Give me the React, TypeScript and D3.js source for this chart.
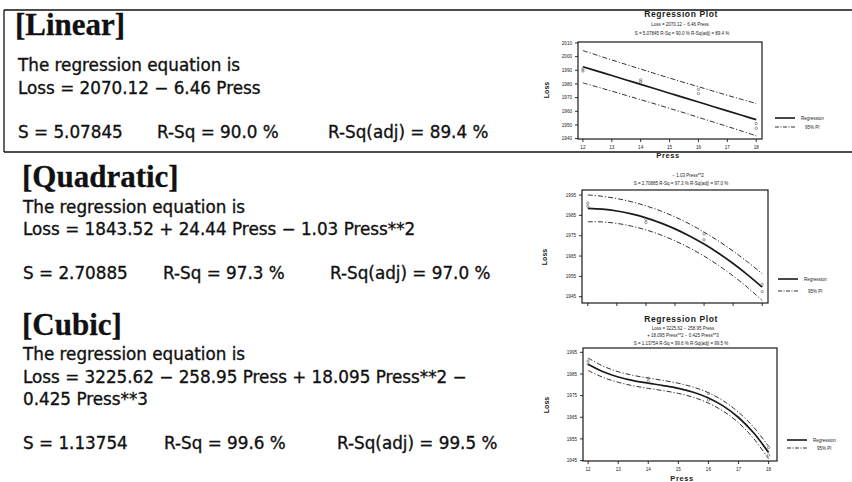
import React from "react";
import * as d3 from "d3";

// ---------- data ----------
const pressGrid = [12, 12.5, 13, 13.5, 14, 14.5, 15, 15.5, 16, 16.5, 17, 17.5, 18];
const linearFit = [1992.6, 1989.37, 1986.14, 1982.91, 1979.68, 1976.45, 1973.22, 1969.99, 1966.76, 1963.53, 1960.3, 1957.07, 1953.84];
const linearPIHalf = [11.8, 11.6, 11.4, 11.3, 11.2, 11.1, 11.1, 11.1, 11.2, 11.3, 11.4, 11.6, 11.8];
const quadFit = [1988.48, 1988.08, 1987.17, 1985.74, 1983.8, 1981.34, 1978.37, 1974.88, 1970.88, 1966.36, 1961.33, 1955.78, 1949.72];
const quadPIHalf = [6.6, 6.3, 6.1, 6.0, 5.9, 5.9, 5.9, 5.9, 5.9, 6.0, 6.1, 6.3, 6.6];
const cubicFit = [1989.5, 1986.01, 1983.6, 1981.95, 1980.74, 1979.65, 1978.37, 1976.57, 1973.94, 1970.16, 1964.9, 1957.86, 1948.7];
const cubicPIHalf = [2.9, 2.6, 2.45, 2.4, 2.4, 2.35, 2.35, 2.35, 2.4, 2.4, 2.45, 2.6, 2.9];
const obsPress = [12, 12, 14, 14, 16, 16, 18, 18];
const obsLoss = [1991, 1989.5, 1983, 1981.5, 1976, 1973, 1951, 1947.5];

const xTickValues = [12, 13, 14, 15, 16, 17, 18];
const linearYTicks = [2010, 2000, 1990, 1980, 1970, 1960, 1950, 1940];
const quadYTicks = [1995, 1985, 1975, 1965, 1955, 1945];
const cubicYTicks = [1995, 1985, 1975, 1965, 1955, 1945];

const headings = ["[Linear]", "[Quadratic]", "[Cubic]"];
const introLine = "The regression equation is";
const linearEq = ["Loss = 2070.12 \u2212 6.46 Press"];
const quadEq = ["Loss = 1843.52 + 24.44 Press \u2212 1.03 Press**2"];
const cubicEq = ["Loss = 3225.62 \u2212 258.95 Press + 18.095 Press**2 \u2212", "0.425 Press**3"];
const linearStats = ["S = 5.07845", "R-Sq = 90.0 %", "R-Sq(adj) = 89.4 %"];
const quadStats = ["S = 2.70885", "R-Sq = 97.3 %", "R-Sq(adj) = 97.0 %"];
const cubicStats = ["S = 1.13754", "R-Sq =  99.6 %", "R-Sq(adj) = 99.5 %"];

const plotTitle = "Regression Plot";
const legendLabels = ["Regression", "95% PI"];

// ---------- components ----------
type Sub = { text: string; x: number; y: number; size: number; bold?: boolean; ls?: number };

type PlotProps = {
  left: number; right: number; top: number; bottom: number;
  xDom: [number, number]; yDom: [number, number];
  yTicks: number[]; xLabels: boolean;
  fit: number[]; half: number[];
  subs: Sub[];
  legend: { x: number; y1: number; y2: number };
  lossPos: [number, number];
  pressPos?: [number, number];
};

function Plot(p: PlotProps) {
  const x = d3.scaleLinear().domain(p.xDom).range([p.left, p.right]);
  const y = d3.scaleLinear().domain(p.yDom).range([p.bottom, p.top]);
  const line = d3
    .line<number>()
    .x((_, i) => x(pressGrid[i]))
    .y((d) => y(d))
    .curve(d3.curveCatmullRom);
  const upper = p.fit.map((f, i) => f + p.half[i]);
  const lower = p.fit.map((f, i) => f - p.half[i]);
  const ink = "#1a1a1a";
  const dash = "5 2 1.2 2";
  return (
    <g fontFamily="Liberation Sans, Arial, sans-serif" fill={ink}>
      {p.subs.map((s, i) => (
        <text key={i} x={s.x} y={s.y} fontSize={s.size} fontWeight={s.bold ? 700 : 400}
          textAnchor="middle" letterSpacing={s.ls ?? 0}>{s.text}</text>
      ))}
      <rect x={p.left} y={p.top} width={p.right - p.left} height={p.bottom - p.top}
        fill="none" stroke={ink} strokeWidth={1.2} />
      {p.yTicks.map((t) => (
        <g key={t}>
          <line x1={p.left - 3} x2={p.left} y1={y(t)} y2={y(t)} stroke={ink} strokeWidth={0.9} />
          <text x={p.left - 6} y={y(t)} dy="0.35em" textAnchor="end" fontSize={4.6}>{t}</text>
        </g>
      ))}
      {xTickValues.map((t) => (
        <g key={t}>
          <line x1={x(t)} x2={x(t)} y1={p.bottom} y2={p.bottom + 3} stroke={ink} strokeWidth={0.9} />
          {p.xLabels && (
            <text x={x(t)} y={p.bottom + 10} textAnchor="middle" fontSize={4.6}>{t}</text>
          )}
        </g>
      ))}
      <path d={line(upper) || ""} fill="none" stroke={ink} strokeWidth={0.9} strokeDasharray={dash} />
      <path d={line(lower) || ""} fill="none" stroke={ink} strokeWidth={0.9} strokeDasharray={dash} />
      <path d={line(p.fit) || ""} fill="none" stroke={ink} strokeWidth={1.7} />
      {obsPress.map((px, i) => (
        <circle key={i} cx={x(px)} cy={y(obsLoss[i])} r={1.2} fill="none" stroke="#555" strokeWidth={0.6} />
      ))}
      <text transform={`translate(${p.lossPos[0]},${p.lossPos[1]}) rotate(-90)`} textAnchor="middle"
        fontSize={7} fontWeight={700} dy="0.35em">Loss</text>
      {p.pressPos && (
        <text x={p.pressPos[0]} y={p.pressPos[1]} textAnchor="middle" fontSize={7.5}
          fontWeight={700} letterSpacing={0.6}>Press</text>
      )}
      <line x1={p.legend.x} x2={p.legend.x + 20} y1={p.legend.y1} y2={p.legend.y1} stroke={ink} strokeWidth={1.6} />
      <line x1={p.legend.x} x2={p.legend.x + 20} y1={p.legend.y2} y2={p.legend.y2} stroke={ink} strokeWidth={0.9} strokeDasharray="4 1.5 1 1.5" />
      <text x={p.legend.x + 26} y={p.legend.y1} dy="0.35em" fontSize={4.5}>{legendLabels[0]}</text>
      <text x={p.legend.x + 30} y={p.legend.y2} dy="0.35em" fontSize={4.5}>{legendLabels[1]}</text>
    </g>
  );
}

function StatsLine({ items, xs, y }: { items: string[]; xs: number[]; y: number }) {
  return (
    <text y={y}>
      {items.map((s, i) => (
        <tspan key={i} x={xs[i]}>{s}</tspan>
      ))}
    </text>
  );
}

export default function App() {
  const bodyFont = "DejaVu Sans, Verdana, sans-serif";
  const headFont = "Liberation Serif, Times New Roman, serif";
  return (
    <svg width={852} height={482} viewBox="0 0 852 482"
      style={{ position: "absolute", left: 0, top: 0, background: "#fff" }}>
      <rect x={0} y={0} width={852} height={482} fill="#fff" />
      {/* box around linear */}
      <line x1={4} x2={852} y1={10} y2={10} stroke="#111" strokeWidth={1.3} />
      <line x1={4} x2={4} y1={10} y2={152} stroke="#111" strokeWidth={1.3} />
      <line x1={4} x2={852} y1={152} y2={152} stroke="#111" strokeWidth={1.3} />

      <g fontFamily={headFont} fontWeight={700} fontSize={31} fill="#111" stroke="#111" strokeWidth={0.3}>
        <text x={15} y={35}>{headings[0]}</text>
        <text x={22} y={187}>{headings[1]}</text>
        <text x={22} y={335}>{headings[2]}</text>
      </g>

      <g fontFamily={bodyFont} fontSize={16.8} fill="#111" stroke="#111" strokeWidth={0.35}>
        <text x={18} y={71}>{introLine}</text>
        <text x={18} y={94}>{linearEq[0]}</text>
        <StatsLine items={linearStats} xs={[18, 157, 328]} y={138} />

        <text x={23} y={213}>{introLine}</text>
        <text x={23} y={235}>{quadEq[0]}</text>
        <StatsLine items={quadStats} xs={[23, 163, 330]} y={279} />

        <text x={23} y={360}>{introLine}</text>
        <text x={23} y={383}>{cubicEq[0]}</text>
        <text x={23} y={405}>{cubicEq[1]}</text>
        <StatsLine items={cubicStats} xs={[23, 164, 337]} y={449} />
      </g>

      <Plot
        left={578} right={762} top={42} bottom={139}
        xDom={[11.83, 18.2]} yDom={[1939.7, 2010.7]}
        yTicks={linearYTicks} xLabels={true}
        fit={linearFit} half={linearPIHalf}
        subs={[
          { text: plotTitle, x: 681, y: 17, size: 8.5, bold: true, ls: 0.6 },
          { text: linearEq[0], x: 680, y: 26, size: 4.5 },
          { text: linearStats.join("     "), x: 682, y: 35, size: 4.5 },
        ]}
        legend={{ x: 775, y1: 118, y2: 127 }}
        lossPos={[547, 90]}
        pressPos={[668, 158]}
      />
      <Plot
        left={582} right={768} top={190} bottom={303}
        xDom={[11.8, 18.2]} yDom={[1941.9, 1997.5]}
        yTicks={quadYTicks} xLabels={false}
        fit={quadFit} half={quadPIHalf}
        subs={[
          { text: "\u2212 1.03 Press**2", x: 688, y: 177, size: 4.5 },
          { text: quadStats.join("     "), x: 681, y: 185, size: 4.5 },
        ]}
        legend={{ x: 778, y1: 279, y2: 291 }}
        lossPos={[545, 257]}
      />
      <Plot
        left={583} right={777} top={348} bottom={461}
        xDom={[11.83, 18.28]} yDom={[1944.8, 1997]}
        yTicks={cubicYTicks} xLabels={true}
        fit={cubicFit} half={cubicPIHalf}
        subs={[
          { text: plotTitle, x: 681, y: 322, size: 8.5, bold: true, ls: 0.6 },
          { text: "Loss = 3225.62 \u2212 258.95 Press", x: 683, y: 330, size: 4.5 },
          { text: "+ 18.095 Press**2 \u2212 0.425 Press**3", x: 683, y: 337, size: 4.5 },
          { text: cubicStats.join("     "), x: 681, y: 345, size: 4.5 },
        ]}
        legend={{ x: 787, y1: 440, y2: 448 }}
        lossPos={[547, 405]}
        pressPos={[682, 481]}
      />
    </svg>
  );
}
